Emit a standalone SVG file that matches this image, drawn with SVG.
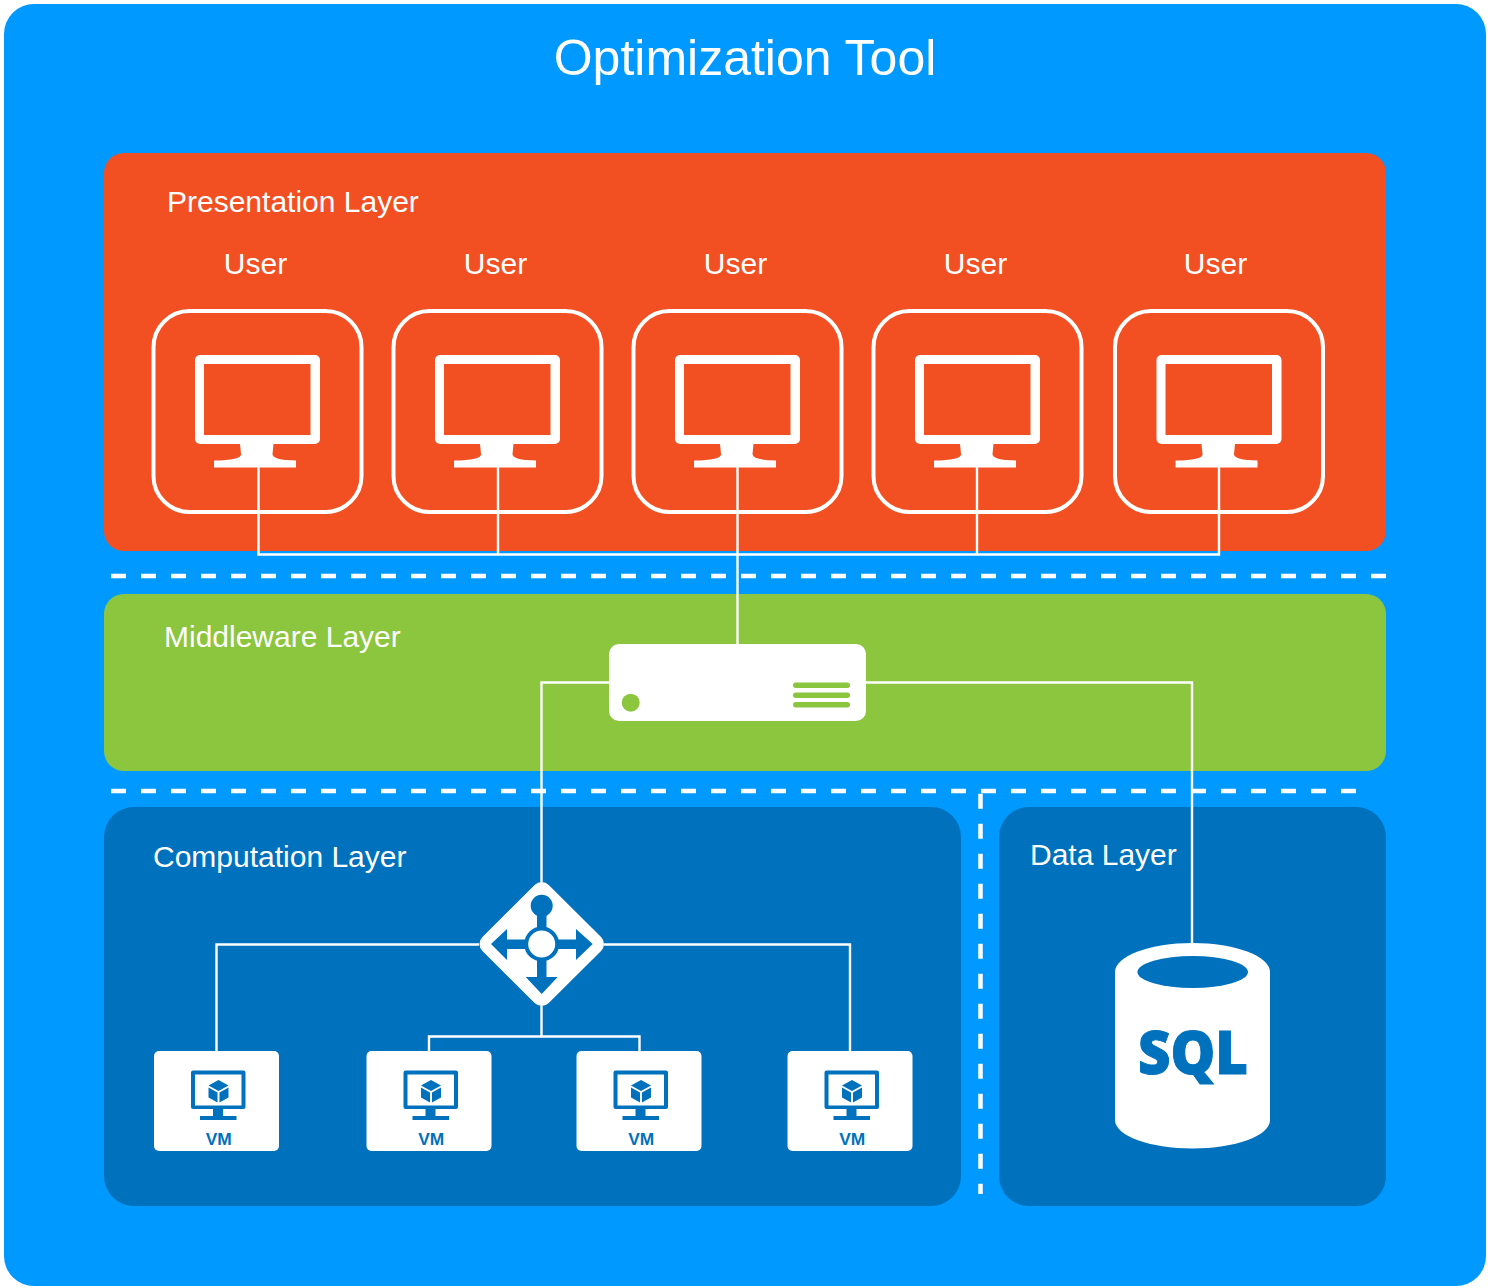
<svg xmlns="http://www.w3.org/2000/svg" xmlns:xlink="http://www.w3.org/1999/xlink" width="1488" height="1288" viewBox="0 0 1488 1288">
<style>
text{font-family:"Liberation Sans",Arial,sans-serif;fill:#fff}
.t{font-size:30px}
.ce{text-anchor:middle}
.c{fill:none;stroke:#fff;stroke-width:2.4}
.d{fill:none;stroke:#fff;stroke-width:4.5;stroke-dasharray:15 15}
.b{fill:#0071bc}
.w{fill:#fff}
.vml{font-size:16px;font-weight:bold;fill:#0071bc;text-anchor:middle}
</style>
<defs>
<g id="user">
<rect x="153.500" y="311" width="208" height="201" rx="36" fill="none" stroke="#fff" stroke-width="4"/>
<path fill-rule="evenodd" class="w" d="M200 355H315a5 5 0 0 1 5 5V439a5 5 0 0 1-5 5H273.500L272.500 454Q272 460 296 460.500V467.500H214V460.500Q242 460 241 454L240 444H200a5 5 0 0 1-5-5V360a5 5 0 0 1 5-5ZM204 364V435H310.500V364Z"/>
</g>
<g id="vm">
<rect x="154" y="1051" width="125" height="100" rx="5" class="w"/>
<path fill-rule="evenodd" class="b" d="M193 1070.500H243.500a2 2 0 0 1 2 2V1107a2 2 0 0 1-2 2H223V1116H236.500V1120H200V1116H213V1109H193a2 2 0 0 1-2-2V1072.500a2 2 0 0 1 2-2ZM195 1074.500V1105.500H241.500V1074.500Z"/>
<path class="b" d="M218.500 1080 228.500 1085.500 218.500 1091 208.500 1085.500ZM208.500 1087.500 217.500 1092.500V1102.500L208.500 1097.500ZM228.500 1087.500V1097.500L219.500 1102.500V1092.500Z"/>
<text x="218.700" y="1144.500" class="vml" textLength="26" lengthAdjust="spacingAndGlyphs">VM</text>
</g>
</defs>
<g id="background"><rect x="4" y="4" width="1482" height="1282" rx="30" fill="#0099ff"/>
<text x="745" y="75" class="ce" font-size="50">Optimization Tool</text></g>
<g id="presentation-layer"><rect x="104" y="153" width="1282" height="398" rx="20" fill="#f25022"/>
<text x="167" y="212" class="t">Presentation Layer</text></g>
<g id="middleware-layer"><rect x="104" y="594" width="1282" height="177" rx="20" fill="#8cc63f"/>
<text x="164" y="647" class="t">Middleware Layer</text></g>
<g id="computation-layer"><rect x="104" y="807" width="857" height="399" rx="30" class="b"/>
<text x="153" y="867" class="t">Computation Layer</text></g>
<g id="data-layer"><rect x="999" y="807" width="387" height="399" rx="30" class="b"/>
<text x="1030" y="865" class="t">Data Layer</text></g>
<g id="separators">
<path class="d" d="M111 576H1386"/>
<path class="d" d="M111 791H966"/>
<path class="d" d="M981 791H1356"/>
<path class="d" d="M980.500 793.700V1194"/>
</g>
<g id="connectors">
<path class="c" d="M258.500 467V554.500H1219V467M498 467V554.500M737.500 467V644M977 467V554.500"/>
<path class="c" d="M609 682.500H541.500V882M866 682.500H1192V944"/>
<path class="c" d="M479 944.500H216.500V1051M604 944.500H850V1051M541.500 1006V1036.500M429 1051V1036.500H639.500V1051"/>
</g>
<g id="user-1"><use xlink:href="#user"/><text x="255.500" y="274" class="t ce">User</text></g>
<g id="user-2"><use xlink:href="#user" x="240"/><text x="495.500" y="274" class="t ce">User</text></g>
<g id="user-3"><use xlink:href="#user" x="480"/><text x="735.500" y="274" class="t ce">User</text></g>
<g id="user-4"><use xlink:href="#user" x="720"/><text x="975.500" y="274" class="t ce">User</text></g>
<g id="user-5"><use xlink:href="#user" x="961.500"/><text x="1215.500" y="274" class="t ce">User</text></g>
<g id="server">
<rect x="609" y="644" width="257" height="77" rx="10" class="w"/>
<circle cx="630.700" cy="702.700" r="9" fill="#8cc63f"/>
<rect x="793" y="682.500" width="57" height="5.500" rx="2.750" fill="#8cc63f"/>
<rect x="793" y="692.500" width="57" height="5.500" rx="2.750" fill="#8cc63f"/>
<rect x="793" y="702" width="57" height="5.500" rx="2.750" fill="#8cc63f"/>
</g>
<g id="router">
<path class="w" stroke="#fff" stroke-width="20" stroke-linejoin="round" d="M541.700 892 594 944 541.700 996 489.500 944Z"/>
<path class="b" d="M491 944 507 929V939.500H528V949H507V960ZM592.700 944 576 929V939.500H555V949H576V960ZM541.700 994 525.700 977H537V960H546.500V977H557.700Z"/>
<circle cx="541.700" cy="905.700" r="11" class="b"/>
<rect x="537" y="910" width="9.500" height="22" class="b"/>
<circle cx="541.700" cy="944" r="15.500" fill="#fff" stroke="#0071bc" stroke-width="4"/>
</g>
<g id="vm-1"><use xlink:href="#vm"/></g>
<g id="vm-2"><use xlink:href="#vm" x="212.500"/></g>
<g id="vm-3"><use xlink:href="#vm" x="422.500"/></g>
<g id="vm-4"><use xlink:href="#vm" x="633.500"/></g>
<g id="database">
<path class="w" d="M1115 972C1115 956 1150 943 1192.500 943S1270 956 1270 972V1120C1270 1136 1235 1148.500 1192.500 1148.500S1115 1136 1115 1120Z"/>
<ellipse cx="1192.700" cy="972" rx="55.300" ry="16" class="b"/>
<text x="1193" y="1074" text-anchor="middle" textLength="110" lengthAdjust="spacingAndGlyphs" style="font-family:'Open Sans',sans-serif;font-weight:800;font-size:60px;fill:#0071bc;stroke:#0071bc;stroke-width:1">SQL</text>
</g>
</svg>
